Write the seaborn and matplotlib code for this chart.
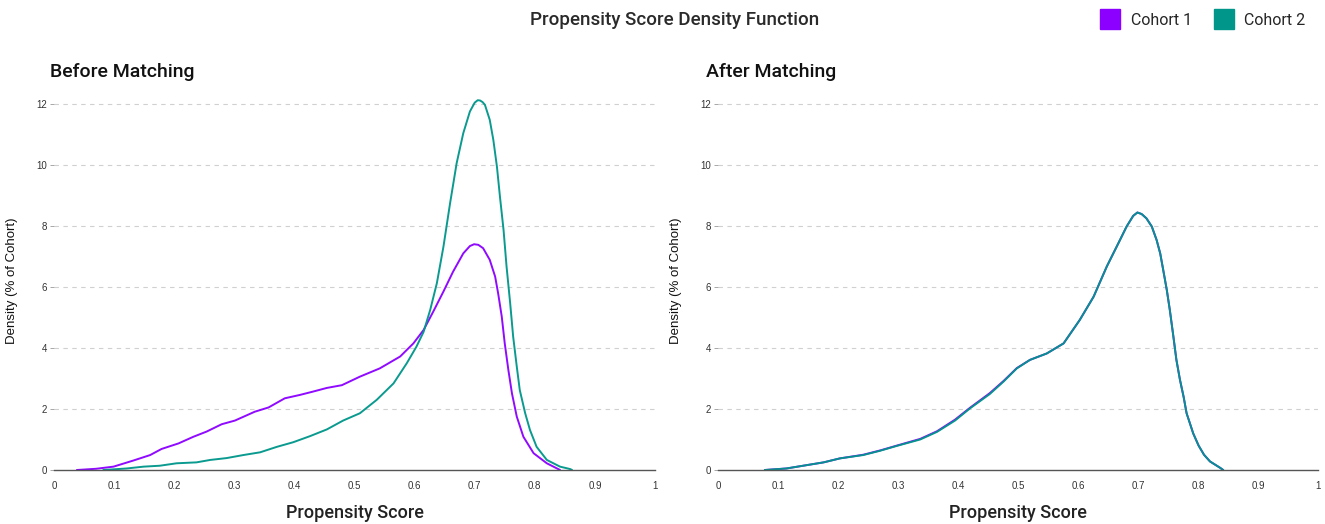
import numpy as np
import pandas as pd
import matplotlib
matplotlib.use('Agg')
import matplotlib.pyplot as plt
import seaborn as sns
from matplotlib.lines import Line2D
from matplotlib.ticker import MultipleLocator

# values
before_c1_x = [0.038, 0.070, 0.099, 0.132, 0.160, 0.179, 0.207, 0.232, 0.254, 0.279, 0.301,
               0.334, 0.357, 0.384, 0.409, 0.431, 0.454, 0.479, 0.509, 0.542, 0.576, 0.598,
               0.615, 0.631, 0.648, 0.664, 0.681, 0.692, 0.699, 0.706, 0.714, 0.725, 0.734,
               0.739, 0.745, 0.750, 0.756, 0.762, 0.770, 0.781, 0.798, 0.820, 0.842]
before_c1_y = [0.00, 0.04, 0.11, 0.31, 0.49, 0.69, 0.87, 1.09, 1.26, 1.50, 1.62,
               1.91, 2.05, 2.35, 2.46, 2.57, 2.69, 2.78, 3.06, 3.33, 3.72, 4.15,
               4.59, 5.19, 5.85, 6.50, 7.10, 7.34, 7.40, 7.38, 7.27, 6.89, 6.34,
               5.79, 5.03, 4.15, 3.28, 2.51, 1.75, 1.09, 0.55, 0.22, 0.00]

before_c2_x = [0.082, 0.121, 0.149, 0.176, 0.204, 0.237, 0.260, 0.287, 0.315, 0.343, 0.371,
               0.398, 0.426, 0.454, 0.481, 0.509, 0.537, 0.565, 0.587, 0.603, 0.615, 0.626,
               0.637, 0.648, 0.659, 0.670, 0.681, 0.692, 0.700, 0.705, 0.709, 0.713, 0.717,
               0.725, 0.731, 0.737, 0.742, 0.748, 0.753, 0.759, 0.764, 0.770, 0.775, 0.784,
               0.792, 0.803, 0.820, 0.842, 0.859, 0.862]
before_c2_y = [0.00, 0.05, 0.11, 0.14, 0.22, 0.25, 0.33, 0.39, 0.49, 0.58, 0.76,
               0.91, 1.11, 1.33, 1.62, 1.86, 2.30, 2.84, 3.50, 4.04, 4.53, 5.25,
               6.12, 7.32, 8.74, 10.06, 11.04, 11.75, 12.04, 12.12, 12.11, 12.06, 11.97,
               11.48, 10.82, 9.94, 8.96, 7.87, 6.67, 5.47, 4.37, 3.39, 2.62, 1.86,
               1.31, 0.76, 0.33, 0.11, 0.03, 0.00]

after_x = [0.078, 0.114, 0.148, 0.176, 0.203, 0.242, 0.270, 0.298, 0.337, 0.365, 0.395,
           0.420, 0.453, 0.476, 0.498, 0.520, 0.548, 0.576, 0.603, 0.626, 0.648, 0.670,
           0.681, 0.692, 0.699, 0.706, 0.714, 0.723, 0.731, 0.737, 0.742, 0.748, 0.753,
           0.759, 0.764, 0.770, 0.776, 0.781, 0.792, 0.801, 0.810, 0.820, 0.837, 0.842]
after_c1_y = [0.00, 0.05, 0.16, 0.25, 0.38, 0.50, 0.64, 0.80, 1.02, 1.27, 1.65,
              2.04, 2.52, 2.92, 3.34, 3.61, 3.82, 4.15, 4.92, 5.68, 6.67, 7.54,
              7.98, 8.33, 8.44, 8.39, 8.25, 7.98, 7.54, 7.10, 6.56, 5.90, 5.25,
              4.37, 3.61, 2.95, 2.40, 1.86, 1.20, 0.80, 0.50, 0.28, 0.07, 0.00]
after_c2_y = [0.00, 0.05, 0.16, 0.25, 0.38, 0.49, 0.63, 0.79, 1.00, 1.25, 1.62,
              2.02, 2.49, 2.90, 3.33, 3.61, 3.82, 4.15, 4.92, 5.68, 6.67, 7.54,
              7.98, 8.33, 8.44, 8.39, 8.25, 7.98, 7.54, 7.10, 6.56, 5.90, 5.25,
              4.37, 3.61, 2.95, 2.40, 1.86, 1.20, 0.80, 0.50, 0.28, 0.07, 0.00]

cohorts = ['Cohort 1', 'Cohort 2']
colors = ['#8B00FF', '#00968A']
x_ticks = [0, 0.1, 0.2, 0.3, 0.4, 0.5, 0.6, 0.7, 0.8, 0.9, 1]
x_tick_labels = ['0', '0.1', '0.2', '0.3', '0.4', '0.5', '0.6', '0.7', '0.8', '0.9', '1']
y_ticks = [0, 2, 4, 6, 8, 10, 12]

before = pd.concat([
    pd.DataFrame({'score': before_c1_x, 'density': before_c1_y, 'cohort': cohorts[0]}),
    pd.DataFrame({'score': before_c2_x, 'density': before_c2_y, 'cohort': cohorts[1]}),
])
after = pd.concat([
    pd.DataFrame({'score': after_x, 'density': after_c1_y, 'cohort': cohorts[0]}),
    pd.DataFrame({'score': after_x, 'density': after_c2_y, 'cohort': cohorts[1]}),
])

sns.set_style('white')
plt.rcParams['font.family'] = ['Liberation Sans', 'DejaVu Sans']
heading = ['Roboto', 'DejaVu Sans']

fig = plt.figure(figsize=(13.25, 5.24), dpi=100)
ax_before = fig.add_axes([54/1325, 54/524, 601/1325, 0.722])
ax_after = fig.add_axes([718/1325, 54/524, 600/1325, 0.722])

for ax, df, sub, tx in [(ax_before, before, 'Before Matching', 50),
                        (ax_after, after, 'After Matching', 706)]:
    sns.lineplot(data=df, x='score', y='density', hue='cohort', palette=colors,
                 hue_order=cohorts, sort=False, estimator=None, ax=ax,
                 linewidth=1.4, alpha=0.96, legend=False)

    ax.set_xlim(0, 1)
    ax.set_ylim(0, 12.4)
    ax.set_xticks(x_ticks)
    ax.set_xticklabels(x_tick_labels)
    ax.xaxis.set_minor_locator(MultipleLocator(0.01))
    ax.set_yticks(y_ticks)
    ax.tick_params(axis='x', which='major', length=5, width=0.8, color='#555',
                   labelsize=7, labelcolor='#333', pad=3)
    ax.tick_params(axis='x', which='minor', length=2, width=0.6, color='#777')
    ax.tick_params(axis='y', length=3, width=0.6, color='#999',
                   labelsize=7, labelcolor='#333', pad=2, left=True)
    for yv in y_ticks[1:]:
        ax.axhline(yv, color='#d0d0d0', linewidth=0.8, linestyle=(0, (4, 4)), zorder=0)

    sns.despine(ax=ax, left=True)
    ax.spines['bottom'].set_color('#555')
    ax.spines['bottom'].set_linewidth(1.0)

    ax.set_xlabel('Propensity Score', fontsize=13, family=heading, fontweight='medium',
                  color='#222', labelpad=9)
    ax.set_ylabel('Density (% of Cohort)', fontsize=9.5, color='#111', labelpad=13)
    fig.text(tx/1325, 1 - 72/524, sub, fontsize=14, family=heading,
             fontweight='medium', color='#111', ha='left', va='center')

fig.text(675/1325, 1 - 20/524, 'Propensity Score Density Function', fontsize=13.5,
         family=heading, fontweight='medium', color='#2a2a2a', ha='center', va='center')

handles = [Line2D([0], [0], marker='s', linestyle='', markersize=15,
                  markerfacecolor=c, markeredgecolor=c) for c in colors]
fig.legend(handles, cohorts, loc='upper right', bbox_to_anchor=(0.995, 1.0), ncol=2,
           frameon=False, prop={'family': heading, 'size': 11.5}, handletextpad=0.3,
           columnspacing=1.0, borderaxespad=0.4)

fig.savefig('out.png', dpi=100)
